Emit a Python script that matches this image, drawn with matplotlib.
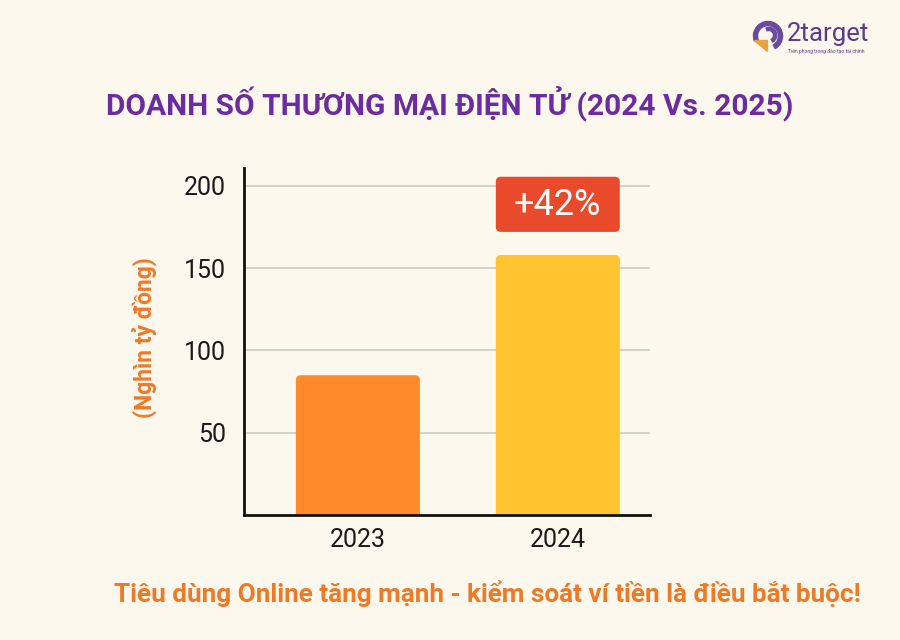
import matplotlib
matplotlib.use("Agg")
import matplotlib.pyplot as plt
from matplotlib.patches import FancyBboxPatch, Wedge, Polygon

# Data
years = ["2023", "2024"]
revenue = [85, 158]
bar_colors = ["#FF8A2A", "#FFC430"]
growth_label = "+42%"
yticks = [50, 100, 150, 200]

bg = "#FDF8EE"
purple = "#6A2C9E"
orange = "#EE7A26"

plt.rcParams['font.family'] = ['Roboto', 'DejaVu Sans']

fig = plt.figure(figsize=(9, 6.4), dpi=100, facecolor=bg)
ax = fig.add_axes([0.271, 0.195, 0.451, 0.543])
ax.set_facecolor(bg)

x_pos = list(range(len(years)))
bars = ax.bar(x_pos, revenue, width=0.62, color=bar_colors, zorder=3)

# give the bars slightly rounded top corners
for b in bars:
    b.set_visible(False)
    rounded = FancyBboxPatch((b.get_x(), -6), b.get_width(), b.get_height() + 6,
                             boxstyle="round,pad=0,rounding_size=0.025",
                             mutation_aspect=120,
                             facecolor=b.get_facecolor(), edgecolor="none", zorder=3)
    ax.add_patch(rounded)

ax.set_xlim(-0.57, 1.46)
ax.set_ylim(0, 211)
ax.set_yticks(yticks)
ax.set_xticks(x_pos)
ax.set_xticklabels(years)
ax.tick_params(axis='both', length=0, labelsize=18, colors="#1a1a1a")
ax.tick_params(axis='y', pad=13)
ax.tick_params(axis='x', pad=9)
ax.grid(axis='y', color="#CFCBC3", linewidth=1.2, zorder=0)

for side in ["top", "right"]:
    ax.spines[side].set_visible(False)
for side in ["left", "bottom"]:
    ax.spines[side].set_linewidth(2)
    ax.spines[side].set_color("#111111")
    ax.spines[side].set_zorder(5)

# Growth badge above the 2024 bar
badge = FancyBboxPatch((1 - 0.31, 172), 0.62, 33.5,
                       boxstyle="round,pad=0,rounding_size=0.025",
                       mutation_aspect=120,
                       facecolor="#EA4A2C", edgecolor="none", zorder=4)
ax.add_patch(badge)
ax.text(1, 188.5, growth_label, ha="center", va="center", fontsize=26,
        color="white", zorder=5)

ax.set_ylabel("(Nghìn tỷ đồng)", color=orange, fontsize=16.5,
              fontweight="bold")
ax.yaxis.set_label_coords(-0.213, 0.51)

fig.text(0.5, 0.838, "DOANH SỐ THƯƠNG MẠI ĐIỆN TỬ (2024 Vs. 2025)",
         ha="center", va="center", fontsize=21.5, fontweight="bold", color=purple)
fig.text(0.541, 0.073, "Tiêu dùng Online tăng mạnh - kiểm soát ví tiền là điều bắt buộc!",
         ha="center", va="center", fontsize=18.8, fontweight="bold", color=orange)

# Logo
fig.text(0.874, 0.947, "2target", ha="left", va="center", fontsize=18.5, color="#5B3A8E")
fig.text(0.875, 0.92, "Tiên phong trong đào tạo tài chính", ha="left", va="center",
         fontsize=3.6, color="#5B3A8E")
lax = fig.add_axes([752 / 900, 1 - 52 / 640, 32 / 900, 32 / 640])
lax.set_xlim(-1.1, 1.1)
lax.set_ylim(-1.1, 1.1)
lax.set_aspect("equal")
lax.axis("off")
lax.add_patch(Wedge((0, 0), 1.0, -60, 200, width=0.28, color="#6A4A9E"))
lax.add_patch(Wedge((0.05, 0.05), 0.55, -60, 110, width=0.22, color="#6A4A9E"))
lax.add_patch(Polygon([[-0.95, -0.3], [-0.1, -0.3], [-0.1, -1.0]], color="#E8A33A"))

fig.savefig("out.png", dpi=100, facecolor=bg)
